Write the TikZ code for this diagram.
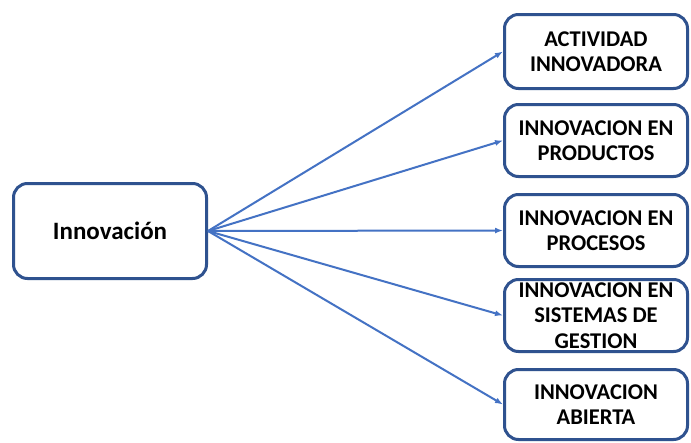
\documentclass[tikz,border=0pt]{standalone}
\usepackage{fontspec}
\setmainfont{Carlito}
\usetikzlibrary{arrows.meta}
\definecolor{boxblue}{RGB}{47,82,143}
\definecolor{arrblue}{RGB}{68,114,196}
\begin{document}
\begin{tikzpicture}[x=1pt,y=-1pt,
  box/.style={draw=boxblue,line width=3pt,rounded corners=14pt,fill=white,
    align=center,font=\bfseries\fontsize{22.5}{25.5}\selectfont,inner sep=0pt},
  arr/.style={draw=arrblue,line width=2pt,-{Latex[length=8pt,width=6pt]}}]
\useasboundingbox (0,0) rectangle (691,442);
\fill[white] (0,0) rectangle (691,442);
\node[box,minimum width=193pt,minimum height=95pt,font=\bfseries\fontsize{25}{28}\selectfont] (L) at (110,231) {Innovación};
\node[box,minimum width=183pt,minimum height=74pt] (B1) at (596,51.5) {ACTIVIDAD\\INNOVADORA};
\node[box,minimum width=183pt,minimum height=72pt] (B2) at (596,140.5) {INNOVACION EN\\PRODUCTOS};
\node[box,minimum width=183pt,minimum height=72pt] (B3) at (596,230.5) {INNOVACION EN\\PROCESOS};
\node[box,minimum width=183pt,minimum height=72pt] (B4) at (596,315.5) {INNOVACION EN\\SISTEMAS DE\\GESTION};
\node[box,minimum width=183pt,minimum height=70pt] (B5) at (596,404.5) {INNOVACION\\ABIERTA};
\foreach \b in {B1,B2,B3,B4,B5} \draw[arr] (L.east) -- (\b.west);
\end{tikzpicture}
\end{document}
